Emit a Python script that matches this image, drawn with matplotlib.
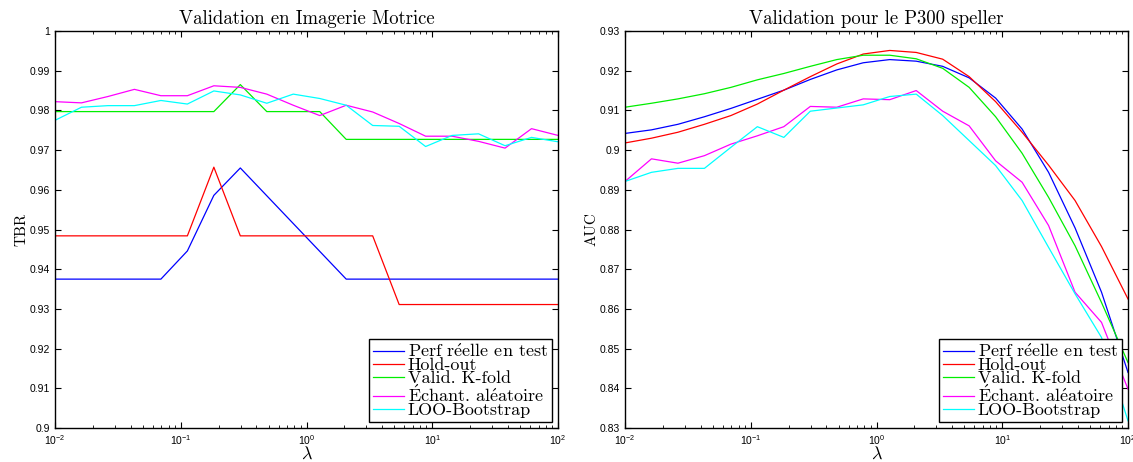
import matplotlib
matplotlib.use("Agg")
import matplotlib.pyplot as plt
import numpy as np

# regularisation values (20 points, log-spaced between 1e-2 and 1e2)
lam = np.logspace(-2, 2, 20)

labels = ["Perf r$\\acute{\\mathrm{e}}$elle en test", "Hold-out", "Valid. K-fold",
          "$\\acute{\\mathrm{E}}$chant. al$\\acute{\\mathrm{e}}$atoire", "LOO-Bootstrap"]
colors = ["#0000ff", "#ff0000", "#00ee00", "#ff00ff", "#00ffff"]

# motor imagery (TBR)
mi_test = [0.9375, 0.9375, 0.9375, 0.9375, 0.9375, 0.9446, 0.9586, 0.9655, 0.9585, 0.9515,
           0.9445, 0.9375, 0.9375, 0.9375, 0.9375, 0.9375, 0.9375, 0.9375, 0.9375, 0.9375]
mi_holdout = [0.9484, 0.9484, 0.9484, 0.9484, 0.9484, 0.9484, 0.9657, 0.9484, 0.9484, 0.9484,
              0.9484, 0.9484, 0.9484, 0.9311, 0.9311, 0.9311, 0.9311, 0.9311, 0.9311, 0.9311]
mi_kfold = [0.9797, 0.9797, 0.9797, 0.9797, 0.9797, 0.9797, 0.9797, 0.9865, 0.9797, 0.9797,
            0.9797, 0.9727, 0.9727, 0.9727, 0.9727, 0.9727, 0.9727, 0.9727, 0.9727, 0.9727]
mi_random = [0.9822, 0.9819, 0.9835, 0.9853, 0.9837, 0.9837, 0.9862, 0.9858, 0.9841, 0.9813,
             0.9787, 0.9813, 0.9796, 0.9767, 0.9735, 0.9735, 0.9722, 0.9705, 0.9754, 0.9737]
mi_boot = [0.9775, 0.9808, 0.9812, 0.9812, 0.9825, 0.9816, 0.9849, 0.9839, 0.9818, 0.9841,
           0.9830, 0.9813, 0.9762, 0.9760, 0.9709, 0.9737, 0.9741, 0.9711, 0.9732, 0.9721]

# P300 speller (AUC)
p3_test = [0.9042, 0.9051, 0.9065, 0.9084, 0.9105, 0.9128, 0.9151, 0.9178, 0.9202, 0.9220,
           0.9228, 0.9224, 0.9211, 0.9182, 0.9131, 0.9053, 0.8944, 0.8804, 0.8642, 0.8440]
p3_holdout = [0.9018, 0.9030, 0.9045, 0.9065, 0.9087, 0.9116, 0.9151, 0.9185, 0.9217, 0.9242,
              0.9251, 0.9246, 0.9229, 0.9185, 0.9122, 0.9045, 0.8962, 0.8873, 0.8757, 0.8625]
p3_kfold = [0.9108, 0.9118, 0.9129, 0.9142, 0.9158, 0.9177, 0.9193, 0.9211, 0.9228, 0.9239,
            0.9239, 0.9230, 0.9206, 0.9158, 0.9084, 0.8992, 0.8881, 0.8759, 0.8616, 0.8465]
p3_random = [0.8921, 0.8978, 0.8967, 0.8986, 0.9015, 0.9036, 0.9059, 0.9110, 0.9108, 0.9129,
             0.9127, 0.9150, 0.9098, 0.9061, 0.8973, 0.8919, 0.8810, 0.8642, 0.8566, 0.8398]
p3_boot = [0.8921, 0.8944, 0.8954, 0.8954, 0.9007, 0.9059, 0.9032, 0.9098, 0.9106, 0.9114,
           0.9135, 0.9141, 0.9087, 0.9024, 0.8961, 0.8873, 0.8755, 0.8638, 0.8528, 0.8318]

serif = ["cmr10", "DejaVu Serif"]
plt.rcParams["font.family"] = ["Liberation Sans", "DejaVu Sans"]
plt.rcParams["axes.formatter.use_mathtext"] = True

fig = plt.figure(figsize=(11.33, 4.62), dpi=100)
ax1 = fig.add_axes([55 / 1133, 1 - 428 / 462, 503 / 1133, 397 / 462])
ax2 = fig.add_axes([625 / 1133, 1 - 428 / 462, 503 / 1133, 397 / 462])


def draw(ax, series, ylo, yhi, title, ylabel):
    for y, c, lab in zip(series, colors, labels):
        ax.plot(lam, y, color=c, lw=0.9, label=lab)
    ax.set_xscale("log")
    ax.set_xlim(1e-2, 1e2)
    ax.set_ylim(ylo, yhi)
    yt = np.round(np.arange(ylo, yhi + 0.001, 0.01), 2)
    ax.set_yticks(yt)
    ax.set_yticklabels(["%g" % v for v in yt])
    ax.tick_params(which="both", direction="in", top=True, right=True, labelsize=7.5)
    ax.tick_params(which="major", length=4, width=0.8)
    ax.tick_params(which="minor", length=2.2, width=0.6)
    for s in ax.spines.values():
        s.set_linewidth(1.0)
    ax.set_title(title, family=serif, fontsize=13.5, pad=5)
    ax.set_ylabel(ylabel, family=serif, fontsize=11, labelpad=1)
    ax.set_xlabel("$\\lambda$", fontsize=13, math_fontfamily="cm", labelpad=-1)
    leg = ax.legend(loc="lower right", prop={"family": serif, "size": 13},
                    fancybox=False, framealpha=1, edgecolor="black",
                    handlelength=1.75, handletextpad=0.2, labelspacing=-0.15,
                    borderpad=0.2, borderaxespad=0.35)
    leg.get_frame().set_linewidth(1.0)
    for t in leg.get_texts():
        t.set_math_fontfamily("cm")


draw(ax1, [mi_test, mi_holdout, mi_kfold, mi_random, mi_boot], 0.9, 1.0,
     "Validation en Imagerie Motrice", "TBR")
draw(ax2, [p3_test, p3_holdout, p3_kfold, p3_random, p3_boot], 0.83, 0.93,
     "Validation pour le P300 speller", "AUC")

fig.savefig("out.png", dpi=100)
